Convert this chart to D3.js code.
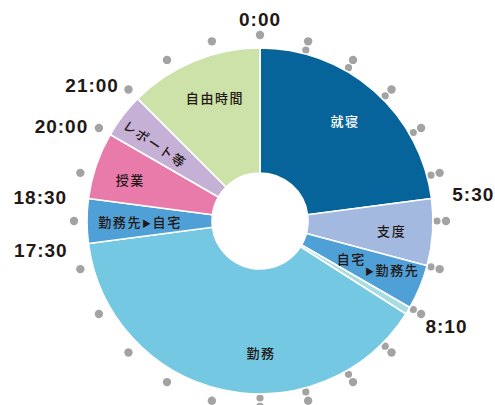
<!DOCTYPE html>
<html>
<head>
<meta charset="utf-8">
<script src="https://cdn.jsdelivr.net/npm/d3@7"></script>
<style>
  html, body { margin: 0; padding: 0; background: #fff; }
  svg { display: block; }
</style>
</head>
<body>
<svg id="chart" width="495" height="405"></svg>
<script>
// one day, clockwise from 0:00 (hours)
var activities = ['就寝', '支度', '自宅▶勤務先', '移動', '勤務', '勤務先▶自宅', '授業', 'レポート等', '自由時間'];
var startHours = [0, 5.5, 7, 8, 8 + 10 / 60, 17.5, 18.5, 20, 21];
var endHours   = [5.5, 7, 8, 8 + 10 / 60, 17.5, 18.5, 20, 21, 24];
var timeLabels = ['0:00', '5:30', '8:10', '17:30', '18:30', '20:00', '21:00'];
var hourTicks = d3.range(0, 24);

var colors = {
    '就寝': '#07649a',
    '支度': '#a3b9df',
    '自宅▶勤務先': '#4fa0d7',
    '移動': '#a6dce2',
    '勤務': '#74c8e1',
    '勤務先▶自宅': '#4fa0d7',
    '授業': '#e97bab',
    'レポート等': '#c6b1d6',
    '自由時間': '#cce2a8'
};

var svg = d3.select('#chart');
var cx = 260, cy = 221;
var outerR = 173, innerR = 48, dotR = 186;
var g = svg.append('g').attr('transform', 'translate(' + cx + ',' + cy + ')');

var angle = d3.scaleLinear().domain([0, 24]).range([0, 2 * Math.PI]);

function polar(hour, r) {
    var a = angle(hour);
    return [r * Math.sin(a), -r * Math.cos(a)];
}

// hour dots (right half has a second, half hidden dot)
g.selectAll('circle.inner-dot')
    .data(hourTicks.filter(function (h) { return h >= 1 && h <= 12; }))
  .enter().append('circle')
    .attr('class', 'inner-dot')
    .attr('cx', function (h) { return polar(h, dotR - 9)[0]; })
    .attr('cy', function (h) { return polar(h, dotR - 9)[1]; })
    .attr('r', 3.6)
    .attr('fill', '#a3a3a3');

g.selectAll('circle.dot')
    .data(hourTicks)
  .enter().append('circle')
    .attr('class', 'dot')
    .attr('cx', function (h) { return polar(h, dotR)[0]; })
    .attr('cy', function (h) { return polar(h, dotR)[1]; })
    .attr('r', 4.2)
    .attr('fill', '#a3a3a3');

// slices
var arc = d3.arc().innerRadius(innerR).outerRadius(outerR);
var slices = activities.map(function (name, i) {
    return { name: name, start: startHours[i], end: endHours[i] };
});

g.selectAll('path.slice')
    .data(slices)
  .enter().append('path')
    .attr('class', 'slice')
    .attr('d', function (d) {
        return arc({ startAngle: angle(d.start), endAngle: angle(d.end) });
    })
    .attr('fill', function (d) { return colors[d.name]; })
    .attr('stroke', '#fff')
    .attr('stroke-width', 1.6)
    .attr('stroke-linejoin', 'round');

// labels inside the ring: [text parts, hour, radius, rotation, colour]
// '>' marks the small arrow
var inside = [
    [['就寝'], 2.7, 131, 0, '#fff'],
    [['支度'], 6.29, 132, 0, '#231815'],
    [['自宅'], 7.51, 99, 0, '#231815'],
    [['>', '勤務先'], 7.36, 141, 0, '#231815'],
    [['勤務'], 11.97, 132, 0, '#231815'],
    [['勤務先', '>', '自宅'], 17.97, 120, 0, '#231815'],
    [['授業'], 19.17, 136, 0, '#231815'],
    [['レポート等'], 20.4, 130, 34, '#231815'],
    [['自由時間'], 22.66, 131, 0, '#231815']
];

var insideText = g.selectAll('text.inside')
    .data(inside)
  .enter().append('text')
    .attr('class', 'inside')
    .attr('transform', function (d) {
        var p = polar(d[1], d[2]);
        return 'translate(' + p[0] + ',' + p[1] + ') rotate(' + d[3] + ')';
    })
    .attr('text-anchor', 'middle')
    .attr('dy', '0.36em')
    .attr('fill', function (d) { return d[4]; })
    .style('font-family', '"Noto Sans CJK JP", sans-serif')
    .style('font-weight', 500)
    .style('font-size', '13px')
    .style('letter-spacing', '1.6px');

insideText.selectAll('tspan')
    .data(function (d) { return d[0]; })
  .enter().append('tspan')
    .style('font-size', function (t) { return t === '>' ? '9px' : null; })
    .text(function (t) { return t === '>' ? '▶' : t; });

// time labels round the ring
var timePlace = [[0, 202], [5.52, 215], [7.96, 214], [17.5, 221], [18.42, 221], [19.7, 220], [20.6, 216]];

g.selectAll('text.time')
    .data(timeLabels)
  .enter().append('text')
    .attr('class', 'time')
    .attr('x', function (d, i) { return polar(timePlace[i][0], timePlace[i][1])[0]; })
    .attr('y', function (d, i) { return polar(timePlace[i][0], timePlace[i][1])[1]; })
    .attr('text-anchor', 'middle')
    .attr('dy', '0.36em')
    .attr('fill', '#231815')
    .style('font-family', '"Liberation Sans", Arial, sans-serif')
    .style('font-weight', 700)
    .style('font-size', '19px')
    .style('letter-spacing', '1px')
    .text(function (d) { return d; });
</script>
</body>
</html>
